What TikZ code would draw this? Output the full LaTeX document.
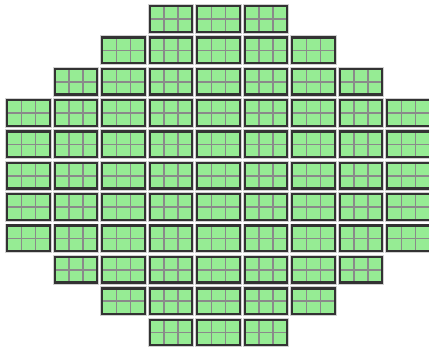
\documentclass[tikz,border=0pt]{standalone}
\usepackage{tikz}
\usetikzlibrary{positioning}

\definecolor{cellgreen}{HTML}{96EC94}
\definecolor{cellframe}{HTML}{333333}
\definecolor{cellgrid}{HTML}{8A8A8A}

\begin{document}
\begin{tikzpicture}[
    x=0.5mm, y=-0.5mm,
    module/.style={rectangle, draw=cellframe, line width=3.4pt, fill=cellgreen,
        minimum width=21.3mm, minimum height=12.8mm, inner sep=0pt,
        preaction={draw=black!18, line width=6pt},
        path picture={
            \draw[cellgrid, line width=2.4pt]
                ([xshift=7.1mm]path picture bounding box.north west) -- ([xshift=7.1mm]path picture bounding box.south west)
                ([xshift=-7.1mm]path picture bounding box.north east) -- ([xshift=-7.1mm]path picture bounding box.south east)
                (path picture bounding box.west) -- (path picture bounding box.east);
        }}
]
    % cadre de l'image
    \useasboundingbox (0,0) rectangle (429,348);
    \clip (0,0) rectangle (429,348);

    % rangees de modules (3,5,7,9,...)
    \foreach \n [count=\r from 0] in {3,5,7,9,9,9,9,9,7,5,3} {
        \pgfmathtruncatemacro\h{(\n-1)/2}
        \foreach \k in {-\h,...,\h} {
            \node[module] (m-\r-\k) at (218.5+\k*47.5, 19+\r*31.35) {};
        }
    }

\end{tikzpicture}
\end{document}
